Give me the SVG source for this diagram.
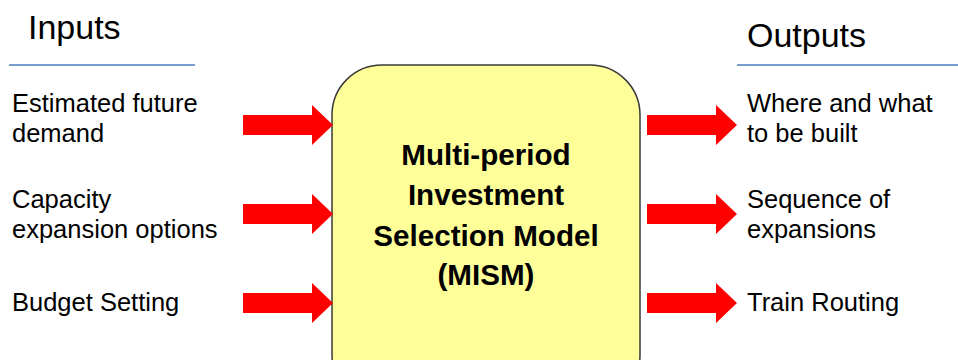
<svg xmlns="http://www.w3.org/2000/svg" width="958" height="360" viewBox="0 0 958 360">
  <style>
    .title { font-family: "Liberation Sans", Arial, sans-serif; font-size: 34px; fill: #000; }
    .item { font-family: "Liberation Sans", Arial, sans-serif; font-size: 25.5px; fill: #000; }
    .center { font-family: "Liberation Sans", Arial, sans-serif; font-size: 29.6px; font-weight: bold; fill: #000; text-anchor: middle; }
    .rule { stroke: #4f81bd; stroke-width: 1.5; }
    .arrow { fill: #ff0000; }
  </style>
  <defs>
    <path id="arr" d="M0,-10 H69 V-20 L90,0 L69,20 V10 H0 Z"/>
  </defs>
  <rect width="958" height="360" fill="#ffffff"/>

  <g id="inputs-header">
    <text class="title" x="28" y="39">Inputs</text>
    <line class="rule" x1="9" y1="65" x2="195" y2="65"/>
  </g>
  <g id="outputs-header">
    <text class="title" x="747" y="47">Outputs</text>
    <line class="rule" x1="737" y1="65" x2="958" y2="65"/>
  </g>

  <g id="model">
    <rect x="332" y="65" width="308" height="340" rx="50" ry="50" fill="#ffff99" stroke="#3a3a3a" stroke-width="1.5"/>
    <text class="center" x="486" y="165">Multi-period</text>
    <text class="center" x="486" y="205">Investment</text>
    <text class="center" x="486" y="246">Selection Model</text>
    <text class="center" x="486" y="285">(MISM)</text>
  </g>

  <g id="input-demand">
    <text class="item" x="12" y="112">Estimated future</text>
    <text class="item" x="12" y="142">demand</text>
  </g>
  <g id="input-capacity">
    <text class="item" x="12" y="208">Capacity</text>
    <text class="item" x="12" y="238">expansion options</text>
  </g>
  <g id="input-budget">
    <text class="item" x="12" y="311">Budget Setting</text>
  </g>

  <g id="output-where">
    <text class="item" x="747" y="112">Where and what</text>
    <text class="item" x="747" y="142">to be built</text>
  </g>
  <g id="output-sequence">
    <text class="item" x="747" y="208">Sequence of</text>
    <text class="item" x="747" y="238">expansions</text>
  </g>
  <g id="output-routing">
    <text class="item" x="747" y="311">Train Routing</text>
  </g>

  <g id="connectors">
    <use href="#arr" class="arrow" transform="translate(243,125)"/>
    <use href="#arr" class="arrow" transform="translate(243,214)"/>
    <use href="#arr" class="arrow" transform="translate(243,303)"/>
    <use href="#arr" class="arrow" transform="translate(647,125)"/>
    <use href="#arr" class="arrow" transform="translate(647,214)"/>
    <use href="#arr" class="arrow" transform="translate(647,303)"/>
  </g>
</svg>
